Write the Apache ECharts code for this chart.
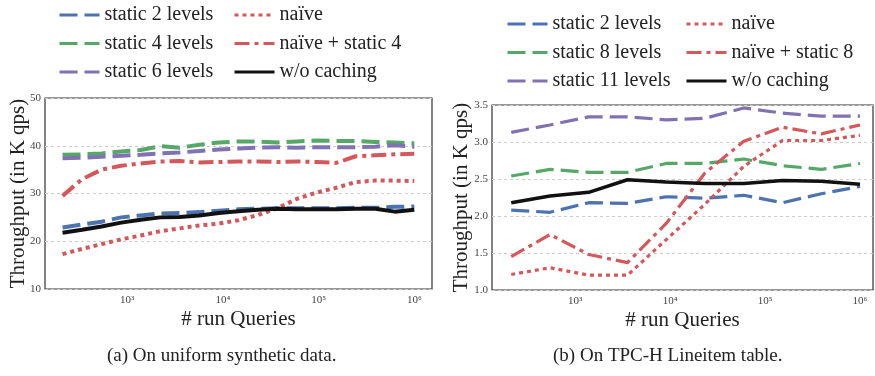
<!DOCTYPE html>
<html>
<head>
<meta charset="utf-8">
<script src="https://cdn.jsdelivr.net/npm/echarts@6/dist/echarts.min.js"></script>
<style>
  html, body { margin: 0; padding: 0; background: #fff; }
  #chart { width: 875px; height: 376px; }
</style>
</head>
<body>
<div id="chart"></div>
<script>
// (a) uniform synthetic data
const queriesA = [212, 339, 542, 867, 1388, 2220, 3553, 5684, 9095, 14552, 23283, 37253, 59605, 95367, 152588, 244141, 390625, 625000, 1000000];
const static2A = [22.9, 23.5, 24.1, 25.0, 25.4, 25.8, 25.9, 26.1, 26.4, 26.7, 26.8, 26.9, 26.9, 26.9, 26.9, 27.0, 27.0, 27.2, 27.3];
const static4A = [38.1, 38.2, 38.4, 38.8, 39.1, 39.9, 39.6, 40.2, 40.7, 40.9, 40.9, 40.7, 40.9, 41.1, 41.0, 41.0, 40.8, 40.7, 40.5];
const static6A = [37.4, 37.5, 37.7, 37.9, 38.1, 38.4, 38.6, 38.9, 39.2, 39.4, 39.6, 39.7, 39.6, 39.7, 39.7, 39.7, 39.8, 40.1, 39.8];
const naiveA = [17.3, 18.4, 19.4, 20.4, 21.2, 22.1, 22.7, 23.3, 23.7, 24.4, 25.5, 26.9, 28.9, 30.2, 31.2, 32.4, 32.7, 32.7, 32.6];
const naiveStaticA = [29.5, 33.0, 35.0, 35.8, 36.3, 36.7, 36.8, 36.5, 36.6, 36.7, 36.7, 36.6, 36.7, 36.6, 36.4, 37.8, 38.0, 38.2, 38.3];
const noCacheA = [21.8, 22.4, 23.1, 23.9, 24.5, 25.0, 25.1, 25.4, 25.9, 26.3, 26.6, 26.8, 26.7, 26.7, 26.7, 26.8, 26.8, 26.2, 26.6];

// (b) TPC-H lineitem table
const queriesB = [212, 542, 1388, 3553, 9095, 23283, 59605, 152588, 390625, 1000000];
const static2B = [2.08, 2.05, 2.18, 2.17, 2.26, 2.24, 2.28, 2.18, 2.30, 2.40];
const static8B = [2.54, 2.63, 2.59, 2.59, 2.71, 2.71, 2.77, 2.68, 2.63, 2.71];
const static11B = [3.13, 3.23, 3.34, 3.34, 3.30, 3.32, 3.46, 3.39, 3.35, 3.35];
const naiveB = [1.21, 1.30, 1.20, 1.20, 1.68, 2.16, 2.67, 3.02, 3.02, 3.09];
const naiveStaticB = [1.45, 1.75, 1.48, 1.37, 1.90, 2.58, 3.01, 3.20, 3.11, 3.23];
const noCacheB = [2.18, 2.27, 2.32, 2.49, 2.46, 2.44, 2.44, 2.48, 2.47, 2.43];

const xTickValues = [1e3, 1e4, 1e5, 1e6];
const xTickLabels = ['10³', '10⁴', '10⁵', '10⁶'];
const captions = ['(a) On uniform synthetic data.', '(b) On TPC-H Lineitem table.'];

const FONT = 'Liberation Serif';
const BLUE = '#4c72b0', GREEN = '#55a868', PURPLE = '#8172b2', RED = '#d4585b';

const DASH = [18, 7], DOT = [4, 4], DASHDOT = [15, 5, 4, 5];

function pairs(xs, ys) {
  return xs.map((x, i) => [x, ys[i]]);
}

function line(name, xs, ys, color, dash, width, idx) {
  return {
    type: 'line',
    name: name,
    xAxisIndex: idx,
    yAxisIndex: idx,
    data: pairs(xs, ys),
    symbol: 'none',
    showSymbol: false,
    silent: true,
    lineStyle: { color: color, width: width, type: dash, cap: 'butt' },
    itemStyle: { color: color }
  };
}

function xLabel(v) {
  const e = Math.log10(v);
  if (Math.abs(e - Math.round(e)) > 1e-6) return '';
  const i = xTickValues.indexOf(Math.pow(10, Math.round(e)));
  return i < 0 ? '' : xTickLabels[i];
}

function xAxis(idx, min, max) {
  return {
    type: 'log',
    logBase: 10,
    gridIndex: idx,
    min: min,
    max: max,
    axisLine: { show: false },
    axisTick: { show: false },
    splitLine: { show: false },
    axisLabel: { formatter: xLabel, color: '#444', fontSize: 11, fontFamily: FONT, margin: 6, showMinLabel: false, showMaxLabel: false },
    name: '# run Queries',
    nameLocation: 'middle',
    nameGap: 20,
    nameMoveOverlap: false,
    nameTextStyle: { fontSize: 21, color: '#222', fontFamily: FONT }
  };
}

function yAxis(idx, min, max, step, digits, gap) {
  return {
    type: 'value',
    gridIndex: idx,
    min: min,
    max: max,
    interval: step,
    axisLine: { show: false },
    axisTick: { show: false },
    splitLine: { lineStyle: { color: '#cccccc', width: 1, type: [3, 3] } },
    axisLabel: {
      color: '#444', fontSize: 11, fontFamily: FONT, margin: 4,
      formatter: (v) => v.toFixed(digits)
    },
    name: 'Throughput (in K qps)',
    nameLocation: 'middle',
    nameGap: gap,
    nameRotate: 90,
    nameMoveOverlap: false,
    nameTextStyle: { fontSize: 21, color: '#222', fontFamily: FONT }
  };
}

function legend(names, left, top) {
  return {
    data: names,
    left: left,
    top: top,
    orient: 'vertical',
    padding: 0,
    itemWidth: 40,
    itemHeight: 12,
    itemGap: 8.5,
    selectedMode: false,
    itemStyle: { opacity: 0 },
    lineStyle: { width: 3 },
    textStyle: { fontSize: 20, lineHeight: 20, color: '#222', fontFamily: FONT }
  };
}

const chart = echarts.init(document.getElementById('chart'));

chart.setOption({
  backgroundColor: '#fff',
  animation: false,
  textStyle: { fontFamily: FONT },
  grid: [
    { left: 45, top: 98, width: 387, height: 191, show: true, borderColor: '#333', borderWidth: 1.2, backgroundColor: 'transparent' },
    { left: 492, top: 105, width: 381, height: 185, show: true, borderColor: '#333', borderWidth: 1.2, backgroundColor: 'transparent' }
  ],
  xAxis: [xAxis(0, 139, 1530000), xAxis(1, 133, 1370000)],
  yAxis: [yAxis(0, 10, 50, 10, 0, 16), yAxis(1, 1.0, 3.5, 0.5, 1, 20)],
  legend: [
    legend(['static 2 levels', 'static 4 levels', 'static 6 levels'], 58, 5),
    legend(['naïve', 'naïve + static 4', 'w/o caching'], 233, 5),
    legend(['static 2 levels', 'static 8 levels', 'static 11 levels'], 506, 14),
    legend(['naïve', 'naïve + static 8', 'w/o caching'], 685, 14)
  ],
  graphic: [
    { type: 'text', left: 107, top: 347, style: { text: captions[0], font: '19px ' + FONT, fill: '#222' } },
    { type: 'text', left: 553, top: 347, style: { text: captions[1], font: '19px ' + FONT, fill: '#222' } }
  ],
  series: [
    line('static 2 levels', queriesA, static2A, BLUE, DASH, 4, 0),
    line('static 4 levels', queriesA, static4A, GREEN, DASH, 4, 0),
    line('static 6 levels', queriesA, static6A, PURPLE, DASH, 4, 0),
    line('naïve', queriesA, naiveA, RED, DOT, 4, 0),
    line('naïve + static 4', queriesA, naiveStaticA, RED, DASHDOT, 4, 0),
    line('w/o caching', queriesA, noCacheA, '#111', 'solid', 4, 0),

    line('static 2 levels', queriesB, static2B, BLUE, DASH, 3.2, 1),
    line('static 8 levels', queriesB, static8B, GREEN, DASH, 3.2, 1),
    line('static 11 levels', queriesB, static11B, PURPLE, DASH, 3.2, 1),
    line('naïve', queriesB, naiveB, RED, DOT, 3.2, 1),
    line('naïve + static 8', queriesB, naiveStaticB, RED, DASHDOT, 3.2, 1),
    line('w/o caching', queriesB, noCacheB, '#111', 'solid', 3.5, 1)
  ]
});
</script>
</body>
</html>
